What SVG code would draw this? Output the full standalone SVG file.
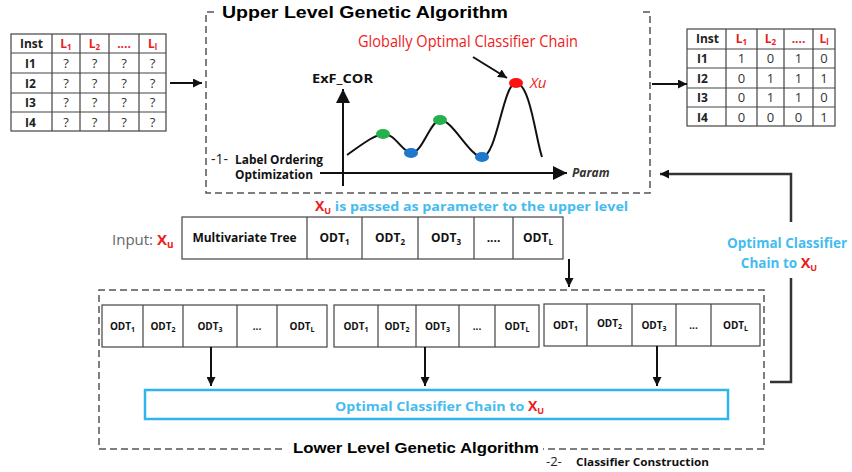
<svg xmlns="http://www.w3.org/2000/svg" width="852" height="472" viewBox="0 0 852 472">
<defs>
<style>
text{font-family:"Open Sans","Liberation Sans",sans-serif;}
.cell{fill:#fff;stroke:#444;stroke-width:1.2;}
.grid{stroke:#444;stroke-width:1.2;fill:none;}
.tb{font-size:12px;font-weight:bold;fill:#222;}
.tr{font-size:13px;fill:#333;text-anchor:middle;}
.lab{font-size:12px;font-weight:bold;fill:#e8201c;text-anchor:middle;}
.dash{fill:none;stroke:#555;stroke-width:1.5;stroke-dasharray:7 4;}
.odt{font-size:10px;font-weight:bold;fill:#111;text-anchor:middle;}
.odt2{font-size:12px;font-weight:bold;fill:#111;text-anchor:middle;}
.cy{fill:#45bcef;font-weight:bold;}
.red{fill:#ee1c1c;}
.title{font-family:"Liberation Sans",Arial,sans-serif;font-weight:bold;fill:#000;}
.ln{stroke:#111;stroke-width:2;fill:none;}
.fb{stroke:#333;stroke-width:2.5;fill:none;}
</style>
<marker id="ah" viewBox="0 0 10 10" refX="10" refY="5" markerWidth="9" markerHeight="9" markerUnits="userSpaceOnUse" orient="auto"><path d="M0,0 L10,5 L0,10 z" fill="#111"/></marker>
<marker id="ahb" viewBox="0 0 10 10" refX="10" refY="5" markerWidth="14" markerHeight="14" markerUnits="userSpaceOnUse" orient="auto"><path d="M0,0 L10,5 L0,10 z" fill="#111"/></marker>
</defs>
<rect width="852" height="472" fill="#fff"/>

<!-- Left table -->
<g id="input-table">
<rect class="cell" x="11" y="34" width="155" height="97"/>
<path class="grid" d="M52,34V131M80,34V131M109,34V131M139,34V131M11,53H166M11,73H166M11,93H166M11,112H166"/>
<text class="tb" x="20" y="48">Inst</text>
<text class="lab" x="66" y="48">L<tspan font-size="8" dy="2">1</tspan></text>
<text class="lab" x="94.5" y="48">L<tspan font-size="8" dy="2">2</tspan></text>
<text class="lab" x="124" y="48">....</text>
<text class="lab" x="152.5" y="48">L<tspan font-size="8" dy="2">l</tspan></text>
<text class="tb" x="25" y="68">I1</text><text class="tb" x="25" y="88">I2</text><text class="tb" x="25" y="107">I3</text><text class="tb" x="25" y="127">I4</text>
<g class="tr">
<text x="66" y="68">?</text><text x="94.5" y="68">?</text><text x="124" y="68">?</text><text x="152.5" y="68">?</text>
<text x="66" y="88">?</text><text x="94.5" y="88">?</text><text x="124" y="88">?</text><text x="152.5" y="88">?</text>
<text x="66" y="107">?</text><text x="94.5" y="107">?</text><text x="124" y="107">?</text><text x="152.5" y="107">?</text>
<text x="66" y="127">?</text><text x="94.5" y="127">?</text><text x="124" y="127">?</text><text x="152.5" y="127">?</text>
</g>
</g>

<!-- Right table -->
<g id="output-table">
<rect class="cell" x="687" y="29" width="148" height="97"/>
<path class="grid" d="M726,29V126M757,29V126M784,29V126M813,29V126M687,49H835M687,68H835M687,88H835M687,107H835"/>
<text class="tb" x="696" y="43">Inst</text>
<text class="lab" x="741.5" y="43">L<tspan font-size="8" dy="2">1</tspan></text>
<text class="lab" x="770.5" y="43">L<tspan font-size="8" dy="2">2</tspan></text>
<text class="lab" x="798.5" y="43">....</text>
<text class="lab" x="824" y="43">L<tspan font-size="8" dy="2">l</tspan></text>
<text class="tb" x="697" y="63">I1</text><text class="tb" x="697" y="83">I2</text><text class="tb" x="697" y="102">I3</text><text class="tb" x="697" y="122">I4</text>
<g class="tr">
<text x="741.5" y="63">1</text><text x="770.5" y="63">0</text><text x="798.5" y="63">1</text><text x="824" y="63">0</text>
<text x="741.5" y="83">0</text><text x="770.5" y="83">1</text><text x="798.5" y="83">1</text><text x="824" y="83">1</text>
<text x="741.5" y="102">0</text><text x="770.5" y="102">1</text><text x="798.5" y="102">1</text><text x="824" y="102">0</text>
<text x="741.5" y="122">0</text><text x="770.5" y="122">0</text><text x="798.5" y="122">0</text><text x="824" y="122">1</text>
</g>
</g>

<!-- Upper level GA -->
<g id="upper-ga">
<path class="dash" d="M214,12H206V193H650V12H643"/>
<text class="title" x="222" y="18" font-size="16" textLength="286" lengthAdjust="spacingAndGlyphs">Upper Level Genetic Algorithm</text>
<text x="358" y="47" font-family="Liberation Sans,Arial,sans-serif" font-size="17" fill="#ee1c1c" textLength="220" lengthAdjust="spacingAndGlyphs">Globally Optimal Classifier Chain</text>
<line class="ln" x1="473" y1="57" x2="507" y2="78" stroke-width="2.5" marker-end="url(#ah)"/>
<text x="312" y="83" font-size="13" font-weight="bold" fill="#111" textLength="61" lengthAdjust="spacingAndGlyphs">ExF_COR</text>
<line class="ln" x1="343" y1="186" x2="343" y2="89" stroke-width="2.5" marker-end="url(#ahb)"/>
<line class="ln" x1="320" y1="173" x2="567" y2="173" stroke-width="2.5" marker-end="url(#ahb)"/>
<text x="572" y="177" font-size="12" font-style="italic" font-weight="bold" fill="#333">Param</text>
<path d="M347,155 C360,146 372,136 383,134 C395,133 402,152 411,153 C422,154 430,121 440,120 C452,119 470,157 482,157 C497,157 503,83 516,83 C530,83 536,140 542,157" fill="none" stroke="#111" stroke-width="2"/>
<ellipse cx="383" cy="134" rx="7" ry="5" fill="#25b14c"/>
<ellipse cx="440" cy="120" rx="7" ry="5" fill="#25b14c"/>
<ellipse cx="411" cy="153" rx="7" ry="5" fill="#1f78cc"/>
<ellipse cx="482" cy="157" rx="7" ry="5" fill="#1f78cc"/>
<ellipse cx="516" cy="83" rx="7" ry="5" fill="#ff1010"/>
<text x="530" y="88" font-size="15" font-style="italic" fill="#ee1c1c" font-family="Liberation Sans,Arial,sans-serif">Xu</text>
<text x="211" y="164" font-size="14" fill="#222">-1-</text>
<text x="235" y="164" font-size="11.5" font-weight="bold" fill="#111" textLength="88" lengthAdjust="spacingAndGlyphs">Label Ordering</text>
<text x="235" y="179" font-size="11.5" font-weight="bold" fill="#111" textLength="78" lengthAdjust="spacingAndGlyphs">Optimization</text>
</g>

<!-- Input chain -->
<g id="input-chain">
<text x="315" y="211" font-size="13" class="cy"><tspan class="red" font-size="14">X</tspan><tspan class="red" font-size="9" dy="3">U</tspan><tspan dy="-3" textLength="297" lengthAdjust="spacingAndGlyphs"> is passed as parameter to the upper level</tspan></text>
<text x="112" y="245" font-size="15" fill="#666" font-family="Liberation Sans,Arial,sans-serif">Input: <tspan fill="#ee1c1c" font-weight="bold">X</tspan><tspan fill="#ee1c1c" font-weight="bold" font-size="10" dy="3">u</tspan></text>
<rect class="cell" x="182" y="217" width="381" height="42"/>
<path class="grid" d="M307,217V259M362,217V259M418,217V259M474,217V259M513,217V259"/>
<text class="odt2" x="244.5" y="242">Multivariate Tree</text>
<text class="odt2" x="334.5" y="242">ODT<tspan font-size="8" dy="3">1</tspan></text>
<text class="odt2" x="390" y="242">ODT<tspan font-size="8" dy="3">2</tspan></text>
<text class="odt2" x="446" y="242">ODT<tspan font-size="8" dy="3">3</tspan></text>
<text class="odt2" x="493.5" y="242">....</text>
<text class="odt2" x="538" y="242">ODT<tspan font-size="8" dy="3">L</tspan></text>
</g>

<!-- Lower level GA -->
<g id="lower-ga">
<path class="dash" d="M282,449H99V290H764V449H543"/>
<text class="title" x="293" y="453" font-size="15" textLength="246" lengthAdjust="spacingAndGlyphs">Lower Level Genetic Algorithm</text>
<text x="546" y="466" font-size="13" fill="#222">-2-</text>
<text x="576" y="466" font-size="11" font-weight="bold" fill="#111" textLength="133" lengthAdjust="spacingAndGlyphs">Classifier Construction</text>
</g>

<g id="chain-1">
<rect class="cell" x="102" y="305" width="225" height="42"/>
<path class="grid" d="M143,305V347M183,305V347M237,305V347M277,305V347"/>
<text class="odt" x="122.5" y="330">ODT<tspan font-size="7" dy="2">1</tspan></text>
<text class="odt" x="163" y="330">ODT<tspan font-size="7" dy="2">2</tspan></text>
<text class="odt" x="210" y="330">ODT<tspan font-size="7" dy="2">3</tspan></text>
<text class="odt" x="257" y="330" font-weight="normal">...</text>
<text class="odt" x="302" y="330">ODT<tspan font-size="7" dy="2">L</tspan></text>
</g>
<g id="chain-2">
<rect class="cell" x="334" y="305" width="205" height="42"/>
<path class="grid" d="M378,305V347M416,305V347M459,305V347M495,305V347"/>
<text class="odt" x="356" y="330">ODT<tspan font-size="7" dy="2">1</tspan></text>
<text class="odt" x="397" y="330">ODT<tspan font-size="7" dy="2">2</tspan></text>
<text class="odt" x="437.5" y="330">ODT<tspan font-size="7" dy="2">3</tspan></text>
<text class="odt" x="477" y="330" font-weight="normal">...</text>
<text class="odt" x="517" y="330">ODT<tspan font-size="7" dy="2">L</tspan></text>
</g>
<g id="chain-3">
<rect class="cell" x="544" y="304" width="216" height="42"/>
<path class="grid" d="M587,304V346M632,304V346M676,304V346M711,304V346"/>
<text class="odt" x="565.5" y="329">ODT<tspan font-size="7" dy="2">1</tspan></text>
<text class="odt" x="609.5" y="327">ODT<tspan font-size="7" dy="2">2</tspan></text>
<text class="odt" x="654" y="329">ODT<tspan font-size="7" dy="2">3</tspan></text>
<text class="odt" x="693.5" y="329" font-weight="normal">...</text>
<text class="odt" x="735.5" y="329">ODT<tspan font-size="7" dy="2">L</tspan></text>
</g>

<g id="optimal-chain">
<rect x="145" y="390" width="583" height="29" fill="#fff" stroke="#2fb4ee" stroke-width="2.5"/>
<text x="335" y="411" font-size="13" class="cy"><tspan textLength="193" lengthAdjust="spacingAndGlyphs">Optimal Classifier Chain to </tspan><tspan class="red" font-size="14">X</tspan><tspan class="red" font-size="9" dy="3">U</tspan></text>
</g>

<g id="feedback-label">
<text x="787" y="248" font-size="13.5" class="cy" text-anchor="middle">Optimal Classifier</text>
<text x="779" y="268" font-size="13.5" class="cy" text-anchor="middle">Chain to <tspan class="red" font-size="14.5">X</tspan><tspan class="red" font-size="9" dy="3">U</tspan></text>
</g>

<!-- Connectors -->
<g id="connectors">
<line class="ln" x1="170" y1="83" x2="202" y2="83" marker-end="url(#ah)"/>
<line class="ln" x1="652" y1="84" x2="687" y2="84" marker-end="url(#ah)"/>
<line class="ln" x1="569" y1="259" x2="569" y2="287" marker-end="url(#ah)"/>
<line class="ln" x1="211" y1="347" x2="211" y2="386" marker-end="url(#ah)"/>
<line class="ln" x1="425" y1="347" x2="425" y2="386" marker-end="url(#ah)"/>
<line class="ln" x1="657" y1="346" x2="657" y2="386" marker-end="url(#ah)"/>
<path class="fb" d="M770,382H791V278"/>
<path class="fb" d="M791,222V174H660" marker-end="url(#ah)"/>
</g>
</svg>
